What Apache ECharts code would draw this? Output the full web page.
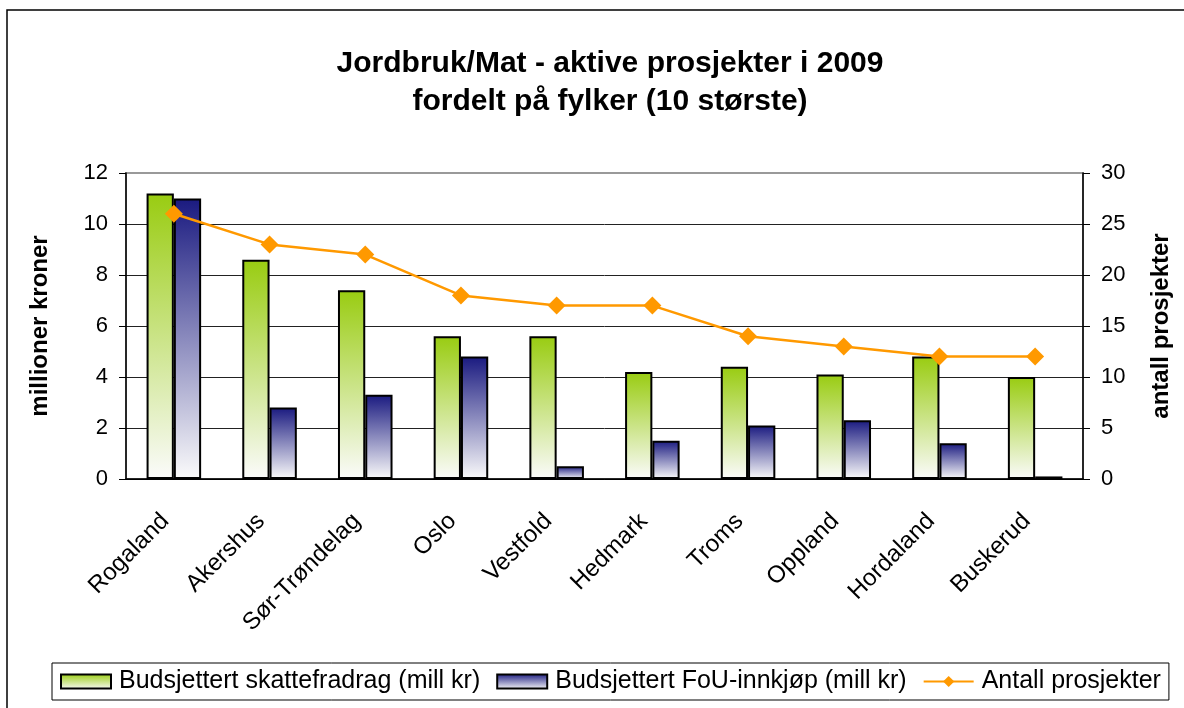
<!DOCTYPE html>
<html>
<head>
<meta charset="utf-8">
<script src="https://cdn.jsdelivr.net/npm/echarts@6/dist/echarts.min.js"></script>
<style>
  html, body { margin: 0; padding: 0; background: #fff; }
  #chart { width: 1184px; height: 708px; }
</style>
</head>
<body>
<div id="chart"></div>
<script>
// ===== data =====
const fylker = ['Rogaland', 'Akershus', 'Sør-Trøndelag', 'Oslo', 'Vestfold', 'Hedmark', 'Troms', 'Oppland', 'Hordaland', 'Buskerud'];
const skattefradrag = [11.2, 8.6, 7.4, 5.6, 5.6, 4.2, 4.4, 4.1, 4.8, 4.0];
const fouInnkjop = [11.0, 2.8, 3.3, 4.8, 0.5, 1.5, 2.1, 2.3, 1.4, 0.1];
const antallProsjekter = [26, 23, 22, 18, 17, 17, 14, 13, 12, 12];

const FONT = '"Liberation Sans", Arial, sans-serif';
const grad = top => ({
  type: 'linear', x: 0, y: 0, x2: 0, y2: 1,
  colorStops: [{ offset: 0, color: top }, { offset: 1, color: '#fbfbfb' }],
});

const chart = echarts.init(document.getElementById('chart'), null, { renderer: 'canvas' });
chart.setOption({
  animation: false,
  backgroundColor: '#fff',
  title: {
    text: 'Jordbruk/Mat - aktive prosjekter i 2009\nfordelt på fylker (10 største)',
    left: 605, top: 40, textAlign: 'center',
    textStyle: { fontFamily: FONT, fontSize: 30, fontWeight: 'bold', color: '#000', lineHeight: 38 },
  },
  graphic: [{
    type: 'rect', silent: true,
    shape: { x: 7, y: 10, width: 1300, height: 800 },
    style: { fill: 'none', stroke: '#000', lineWidth: 1.5 },
  }],
  legend: {
    left: 52, top: 663, width: 1125,
    padding: [6, 8, 6, 8],
    borderColor: '#000', borderWidth: 1,
    itemWidth: 50, itemHeight: 14, itemGap: 16,
    textStyle: { fontFamily: FONT, fontSize: 25, color: '#000', padding: [0, 0, 0, 3] },
    data: [
      { name: 'Budsjettert skattefradrag (mill kr)', icon: 'rect' },
      { name: 'Budsjettert FoU-innkjøp (mill kr)', icon: 'rect' },
      { name: 'Antall prosjekter' },
    ],
  },
  grid: { left: 126, right: 101, top: 173, bottom: 229, show: true, borderColor: '#999', borderWidth: 2 },
  xAxis: {
    type: 'category', data: fylker,
    axisLine: { lineStyle: { color: '#000', width: 1.5 } },
    axisTick: { length: 7, lineStyle: { color: '#000' } },
    axisLabel: {
      rotate: 45, margin: 30, fontFamily: FONT, fontSize: 24, color: '#000', interval: 0,
      padding: [0, 12, 0, 0],
    },
  },
  yAxis: [{
    type: 'value', min: 0, max: 12, interval: 2,
    name: 'millioner kroner', nameLocation: 'middle', nameRotate: 90, nameGap: 74,
    nameTextStyle: { fontFamily: FONT, fontSize: 24, fontWeight: 'bold', color: '#000' },
    axisLine: { show: true, lineStyle: { color: '#000', width: 1.5 } },
    axisTick: { show: true, length: 7, lineStyle: { color: '#000' } },
    axisLabel: { margin: 18, fontFamily: FONT, fontSize: 22, color: '#000' },
    splitLine: { lineStyle: { color: ['#000', '#222', '#222', '#222', '#222', '#222', '#999'], width: 1 } },
  }, {
    type: 'value', min: 0, max: 30, interval: 5, position: 'right',
    name: 'antall prosjekter', nameLocation: 'middle', nameRotate: 90, nameGap: 66,
    nameTextStyle: { fontFamily: FONT, fontSize: 24, fontWeight: 'bold', color: '#000' },
    axisLine: { show: true, lineStyle: { color: '#000', width: 1.5 } },
    axisTick: { show: true, length: 7, lineStyle: { color: '#000' } },
    axisLabel: { margin: 18, fontFamily: FONT, fontSize: 22, color: '#000' },
    splitLine: { show: false },
  }],
  series: [{
    name: 'Budsjettert skattefradrag (mill kr)', type: 'bar', data: skattefradrag,
    barGap: '0%', barCategoryGap: '43%',
    itemStyle: { color: grad('#99cc11'), borderColor: '#000', borderWidth: 2 },
  }, {
    name: 'Budsjettert FoU-innkjøp (mill kr)', type: 'bar', data: fouInnkjop,
    itemStyle: { color: grad('#1a1a80'), borderColor: '#000', borderWidth: 2 },
  }, {
    name: 'Antall prosjekter', type: 'line', yAxisIndex: 1, data: antallProsjekter,
    symbol: 'diamond', symbolSize: 18,
    lineStyle: { color: '#ff9900', width: 2.5 },
    itemStyle: { color: '#ff9900' },
  }],
});
</script>
</body>
</html>
